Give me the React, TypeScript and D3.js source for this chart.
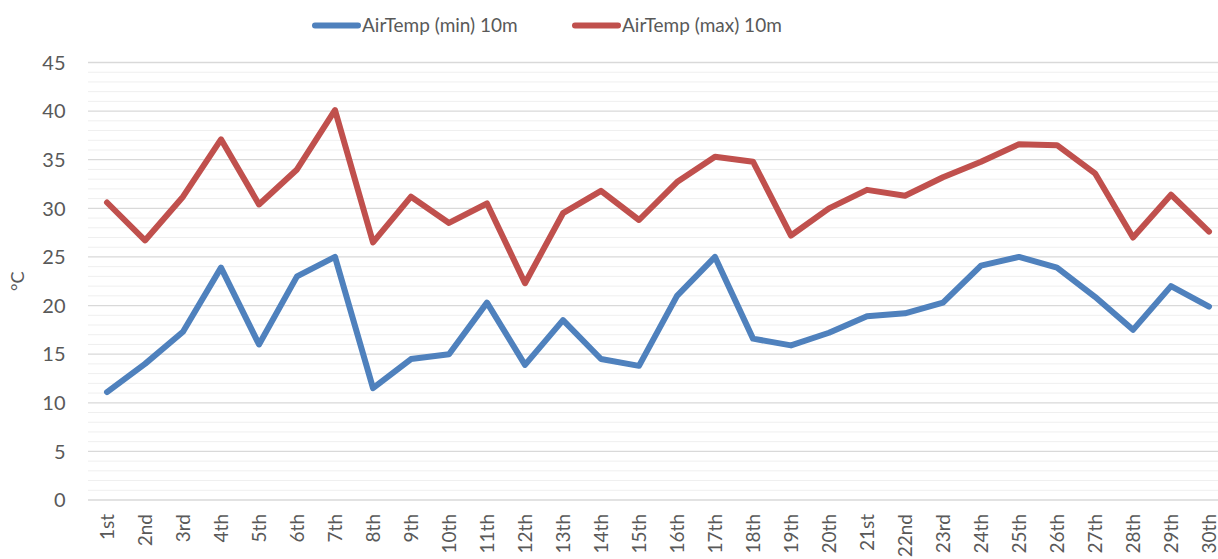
import React from "react";
import * as d3 from "d3";

const categories = ["1st","2nd","3rd","4th","5th","6th","7th","8th","9th","10th","11th","12th","13th","14th","15th","16th","17th","18th","19th","20th","21st","22nd","23rd","24th","25th","26th","27th","28th","29th","30th"];
const minTemp = [11.1,14.0,17.3,23.9,16.0,23.0,25.0,11.5,14.5,15.0,20.3,13.9,18.5,14.5,13.8,21.0,25.0,16.6,15.9,17.2,18.9,19.2,20.3,24.1,25.0,23.9,20.9,17.5,22.0,19.9];
const maxTemp = [30.6,26.7,31.2,37.1,30.4,34.0,40.1,26.5,31.2,28.5,30.5,22.3,29.5,31.8,28.8,32.7,35.3,34.8,27.2,30.0,31.9,31.3,33.2,34.8,36.6,36.5,33.6,27.0,31.4,27.6];
const yTicks = [0,5,10,15,20,25,30,35,40,45];
const seriesNames = ["AirTemp (min) 10m", "AirTemp (max) 10m"];
const seriesColors = ["#4F81BD", "#C0504D"];

export default function App() {
  const W = 1218, H = 559;
  const left = 88, top = 62.5, bottom = 500;
  const band = 38;
  const x = d3.scaleBand<string>().domain(categories).range([left, left + band * categories.length]);
  const y = d3.scaleLinear().domain([0, 45]).range([bottom, top]);
  const cx = (c: string) => (x(c) as number) + x.bandwidth() / 2;
  const line = d3.line<number>().x((_, i) => cx(categories[i])).y(d => y(d));
  const minor = d3.range(0, 46).filter(v => v % 5 !== 0);
  const font = "Lato, 'Open Sans', sans-serif";
  const txt = "#595959";
  return (
    <svg width={W} height={H} style={{ position: "absolute", left: 0, top: 0, background: "#fff" }}>
      <rect x={0} y={0} width={W} height={H} fill="#fff" />
      {minor.map(v => (
        <line key={"m" + v} x1={left} x2={W} y1={y(v)} y2={y(v)} stroke="#efefef" strokeWidth={1} />
      ))}
      {yTicks.map(v => (
        <line key={"g" + v} x1={left} x2={W} y1={y(v)} y2={y(v)} stroke="#d9d9d9" strokeWidth={1.3} />
      ))}
      {yTicks.map(v => (
        <text key={"t" + v} x={65.5} y={y(v)} dy="0.36em" textAnchor="end" fontFamily={font} fontSize={20} fill={txt}>{v}</text>
      ))}
      <text transform={`translate(24,${(top + bottom) / 2}) rotate(-90)`} textAnchor="middle" fontFamily={font} fontSize={18} fill={txt}>°C</text>
      {categories.map(c => (
        <text key={c} transform={`translate(${cx(c)},${514}) rotate(-90)`} textAnchor="end" dy="0.36em" fontFamily={font} fontSize={19} fill={txt}>{c}</text>
      ))}
      {[minTemp, maxTemp].map((s, i) => (
        <path key={i} d={line(s) as string} fill="none" stroke={seriesColors[i]} strokeWidth={6} strokeLinejoin="round" strokeLinecap="round" />
      ))}
      {seriesNames.map((n, i) => {
        const lx = i === 0 ? 315 : 575;
        return (
          <g key={n}>
            <line x1={lx} x2={lx + 43} y1={25.5} y2={25.5} stroke={seriesColors[i]} strokeWidth={6} strokeLinecap="round" />
            <text x={lx + 47} y={25.5} dy="0.36em" fontFamily={font} fontSize={19} fill={txt}>{n}</text>
          </g>
        );
      })}
    </svg>
  );
}
